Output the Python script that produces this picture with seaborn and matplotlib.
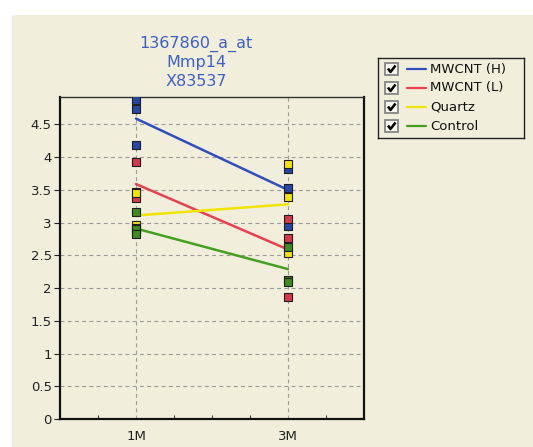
import numpy as np
import pandas as pd
import matplotlib
matplotlib.use("Agg")
from matplotlib import pyplot as plt
from matplotlib.patches import Rectangle
import seaborn as sns

# Time points and groups
timepoints = ["1M", "3M"]
groups = ["MWCNT (H)", "MWCNT (L)", "Quartz", "Control"]
line_colors = ["#2f4fc0", "#e8404f", "#f0e400", "#44a020"]
box_colors = ["#2646a8", "#d8384c", "#f4e400", "#3c8c20"]

# Individual samples (3 per group and time point)
vals_h_1m = [4.87, 4.73, 4.19]
vals_h_3m = [3.82, 3.53, 2.95]
vals_l_1m = [3.92, 3.47, 3.38]
vals_l_3m = [3.05, 2.77, 1.86]
vals_q_1m = [3.45, 2.97, 2.91]
vals_q_3m = [3.89, 3.39, 2.53]
vals_c_1m = [3.16, 2.90, 2.82]
vals_c_3m = [2.63, 2.12, 2.10]

# Group mean lines
mean_h = [4.59, 3.50]
mean_l = [3.59, 2.59]
mean_q = [3.11, 3.28]
mean_c = [2.91, 2.29]

title_lines = ["1367860_a_at", "Mmp14", "X83537"]
ytick_vals = np.arange(0, 5, 0.5)

# Build long tables
samples = {
    "MWCNT (H)": (vals_h_1m, vals_h_3m),
    "MWCNT (L)": (vals_l_1m, vals_l_3m),
    "Quartz": (vals_q_1m, vals_q_3m),
    "Control": (vals_c_1m, vals_c_3m),
}
means = {"MWCNT (H)": mean_h, "MWCNT (L)": mean_l, "Quartz": mean_q, "Control": mean_c}

rows = []
for g in groups:
    for t, vals in zip(timepoints, samples[g]):
        for v in vals:
            rows.append({"time": t, "group": g, "value": v})
pts = pd.DataFrame(rows)

mrows = []
for g in groups:
    for t, v in zip(timepoints, means[g]):
        mrows.append({"time": t, "group": g, "value": v})
mdf = pd.DataFrame(mrows)

sns.set_style("ticks")
plt.rcParams["font.family"] = ["DejaVu Sans"]

bg = "#f1efdb"
fig = plt.figure(figsize=(5.33, 4.47), dpi=100, facecolor="white")
# beige panel (white margin at top/left as in the screenshot)
fig.patches.append(Rectangle((12 / 533, 0), 1, (447 - 15) / 447,
                             transform=fig.transFigure, facecolor=bg,
                             edgecolor="none", zorder=-5))

ax = fig.add_axes([60 / 533, 1 - 419 / 447, (364 - 60) / 533, (419 - 97) / 447])
ax.set_facecolor(bg)

sns.lineplot(data=mdf, x="time", y="value", hue="group", hue_order=groups,
             palette=line_colors, lw=1.8, legend=False, sort=False, ax=ax, zorder=2)
sns.scatterplot(data=pts, x="time", y="value", hue="group", hue_order=groups,
                palette=box_colors, marker="s", s=34, edgecolor="#1e1e1e",
                linewidth=0.8, legend=False, ax=ax, zorder=3)

ax.set_xlim(-0.5, 1.5)
ax.set_ylim(0, 4.92)
ax.set_yticks(ytick_vals)
ax.set_yticklabels([f"{v:g}" for v in ytick_vals])
ax.set_xticks([0, 1])
ax.set_xticklabels(timepoints)
ax.set_xticks(np.arange(-0.25, 1.5, 0.25), minor=True)
ax.tick_params(axis="y", length=4, width=0.8, pad=2, labelsize=9.5, colors="#222222")
ax.tick_params(axis="x", which="major", direction="in", length=0, pad=8,
               labelsize=9.5, colors="#222222")
ax.tick_params(axis="x", which="minor", direction="in", length=3, width=0.8, colors="#444444")
ax.grid(True, which="major", linestyle=(0, (3.5, 3)), color="#9a9a9a", lw=0.8, zorder=1)
ax.set_axisbelow(True)
ax.set_xlabel("")
ax.set_ylabel("")
for side in ["left", "bottom", "right"]:
    ax.spines[side].set_linewidth(1.6)
    ax.spines[side].set_color("#111111")
ax.spines["top"].set_linewidth(1.0)
ax.spines["top"].set_color("#333333")

# Title
for i, line in enumerate(title_lines):
    fig.text(196 / 533, 1 - (44 + i * 19) / 447, line, ha="center", va="center",
             fontsize=11.5, color="#3d5fc8")

# Legend with check boxes
lax = fig.add_axes([378 / 533, 1 - 138 / 447, (524 - 378) / 533, (138 - 58) / 447])
lax.set_xlim(0, 146)
lax.set_ylim(80, 0)
lax.set_facecolor(bg)
lax.set_xticks([])
lax.set_yticks([])
for s in lax.spines.values():
    s.set_linewidth(1.0)
    s.set_color("#222222")
for i, (g, c) in enumerate(zip(groups, line_colors)):
    yc = 11 + i * 19
    lax.add_patch(Rectangle((7, yc - 6), 13, 12, facecolor="#f7f6ee",
                            edgecolor="#858585", lw=1.3))
    lax.plot([10, 12.5, 17.5], [yc - 0.5, yc + 3, yc - 3.5], color="black", lw=1.8,
             solid_capstyle="butt")
    lax.plot([29, 48], [yc, yc], color=c, lw=1.6)
    lax.text(52, yc, g, va="center", ha="left", fontsize=9.5, color="#111111")

fig.savefig("out.png", dpi=100, facecolor="white")
